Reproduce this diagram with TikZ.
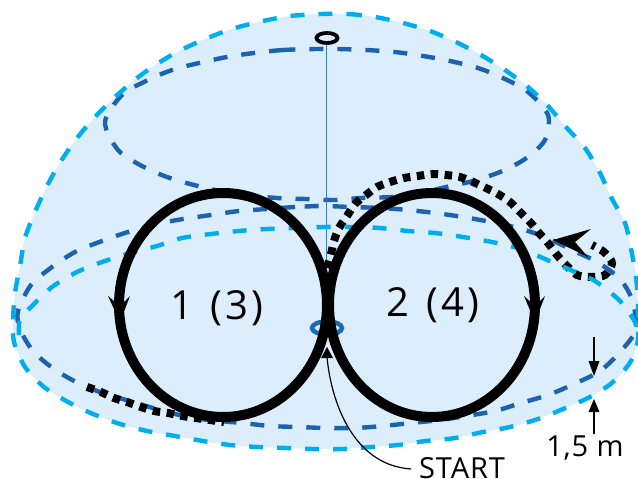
\documentclass[tikz,border=0pt]{standalone}
\usepackage{fontspec}
\setmainfont{Open Sans}
\definecolor{domefill}{HTML}{DCEEFC}
\definecolor{cyanline}{HTML}{00AEEF}
\definecolor{darkline}{HTML}{1B63AF}
\definecolor{poleline}{HTML}{3F7FC0}
\tikzset{
  cyandash/.style={draw=cyanline,line width=4.4pt,dash pattern=on 14pt off 14pt},
  darkdash/.style={draw=darkline,line width=4.4pt,dash pattern=on 14pt off 14pt},
  loopline/.style={draw=black,line width=10pt},
  squaredots/.style={draw=black,line width=8pt,dash pattern=on 7.5pt off 6.5pt},
  thinarrow/.style={draw=black,line width=1.2pt},
  headfill/.style={fill=black,draw=none},
  biglabel/.style={anchor=base,font=\fontsize{40}{40}\selectfont\addfontfeature{LetterSpace=8},inner sep=0pt},
  smalllabel/.style={anchor=base,font=\fontsize{29}{29}\selectfont\addfontfeature{LetterSpace=3},inner sep=0pt}
}
\begin{document}
\begin{tikzpicture}[x=1pt,y=-1pt]
\useasboundingbox (0,0) rectangle (638,479);
% dome
\fill[domefill] plot[smooth cycle,tension=0.5] coordinates {(321,14)(348,14)(375,17)(403,23)(430,31)(456,42)(481,55)(505,70)(528,87)(548,106)(566,127)(585,148)(600,173)(611,197)(625,223)(631,249)(636,277)(638,305)(638,339)(631,361)(613,382)(590,397)(563,409)(538,419)(510,427)(483,432)(455,438)(426,441)(398,445)(371,447)(343,449)(313,449)(287,448)(258,447)(230,445)(203,441)(175,436)(147,431)(120,424)(93,414)(68,402)(44,387)(25,367)(14,342)(13,321)(15,293)(20,266)(25,238)(35,212)(47,186)(61,161)(77,138)(95,117)(115,97)(137,78)(160,62)(183,49)(210,37)(235,28)(263,21)(290,16)};
% upper ring
\draw[darkdash] plot[smooth cycle,tension=0.5] coordinates {(317,49)(283,50)(254,53)(227,57)(199,63)(172,70)(146,81)(122,95)(105,122)(118,150)(142,166)(167,177)(194,185)(235,194)(277,198)(305,199)(335,200)(361,198)(391,197)(420,193)(446,187)(473,181)(500,172)(525,159)(545,140)(548,115)(528,92)(503,78)(478,68)(450,61)(423,56)(395,52)(366,50)(338,49)};
% middle ring, dark
\draw[darkdash] plot[smooth cycle,tension=0.5] coordinates {(323,206)(295,207)(267,209)(239,211)(211,215)(183,219)(157,224)(128,232)(102,241)(75,252)(52,267)(31,285)(18,311)(20,329)(33,351)(54,369)(78,383)(100,392)(133,402)(167,412)(200,419)(242,423)(270,426)(298,427)(326,428)(355,428)(383,426)(411,423)(440,420)(466,416)(495,411)(521,403)(548,395)(574,384)(600,371)(620,352)(635,331)(633,302)(620,279)(597,262)(572,250)(545,237)(518,228)(491,222)(463,217)(435,213)(408,210)(381,208)(351,207)};
% pole
\coordinate (poletop) at (326.5,44);
\coordinate (polefoot) at (326.5,290);
\draw[poleline,line width=1.4pt] (poletop) -- (polefoot);
\draw[black,line width=3.8pt] (327,38) ellipse [x radius=10.5,y radius=5];
% dotted route
\draw[squaredots] plot[smooth,tension=0.5] coordinates {(327,268)(331,254)(334,241)(339,228)(347,216)(355,204)(366,195)(377,187)(390,182)(404,178)(418,176)(432,174)(446,175)(460,177)(473,182)(486,188)(498,194)(510,202)(520,212)(530,222)(539,233)(548,243)(557,255)(566,265)(577,275)(591,277)(605,275)(612,263)(604,252)(592,245)};
\draw[squaredots] plot[smooth,tension=0.5] coordinates {(87,387)(101,392)(114,398)(127,402)(141,407)(154,411)(168,413)(182,416)(196,418)(210,420)(224,422)};
\fill[black] (553,240) -- (591,229) -- (575,242) -- (588,257) -- cycle;
% middle ring, cyan
\draw[cyandash] plot[smooth,tension=0.5] coordinates {(19,335)(20,320)(32,306)(52,287)(77,272)(102,262)(127,254)(157,246)(182,238)(211,234)(239,231)(267,229)(295,228)(323,227)(352,227)(380,228)(408,231)(435,233)(463,237)(492,242)(521,249)(545,259)(573,271)(595,281)(620,301)(635,322)(637,335)};
% outer outline
\draw[cyandash] plot[smooth cycle,tension=0.5] coordinates {(321,14)(348,14)(375,17)(403,23)(430,31)(456,42)(481,55)(505,70)(528,87)(548,106)(566,127)(585,148)(600,173)(611,197)(625,223)(631,249)(636,277)(638,305)(638,339)(631,361)(613,382)(590,397)(563,409)(538,419)(510,427)(483,432)(455,438)(426,441)(398,445)(371,447)(343,449)(313,449)(287,448)(258,447)(230,445)(203,441)(175,436)(147,431)(120,424)(93,414)(68,402)(44,387)(25,367)(14,342)(13,321)(15,293)(20,266)(25,238)(35,212)(47,186)(61,161)(77,138)(95,117)(115,97)(137,78)(160,62)(183,49)(210,37)(235,28)(263,21)(290,16)};
% start ring and loops
\draw[darkline!90!cyanline,line width=4.5pt] (327,328) ellipse [x radius=15,y radius=6.5];
\draw[loopline] (223,305) ellipse [x radius=104,y radius=112];
\draw[loopline] (432,305) ellipse [x radius=103,y radius=112];
\fill[headfill] (108,296) -- (120,306) -- (130,296) -- (120,322) -- cycle;
\fill[headfill] (524,296) -- (535,306) -- (545,296) -- (535,322) -- cycle;
% labels
\node[biglabel] (one) at (217,319) {1\hspace{3pt} (3)};
\node[biglabel] (two) at (433,316) {2\hspace{3pt} (4)};
\node[smalllabel] (startlabel) at (462,478.5) {START};
\node[smalllabel] (dim) at (585,456) {1,5 m};
% START arrow
\coordinate (starttip) at (327,347);
\coordinate (startbase) at (327,357);
\coordinate (startend) at (411,469);
\draw[thinarrow] (startbase) .. controls (331,400) and (352,465) .. (startend);
\fill[headfill] (starttip) -- (321,358) -- (333,358) -- cycle;
% dimension arrows
\coordinate (dimtopstart) at (594,337);
\coordinate (dimtoptip) at (594,362);
\coordinate (dimbotstart) at (594,434);
\coordinate (dimbottip) at (594,410);
\draw[thinarrow] (dimtopstart) -- (dimtoptip);
\fill[headfill] (594,376) -- (588.5,361) -- (599.5,361) -- cycle;
\draw[thinarrow] (dimbotstart) -- (dimbottip);
\fill[headfill] (594,399) -- (588.5,412) -- (599.5,412) -- cycle;
\end{tikzpicture}
\end{document}
